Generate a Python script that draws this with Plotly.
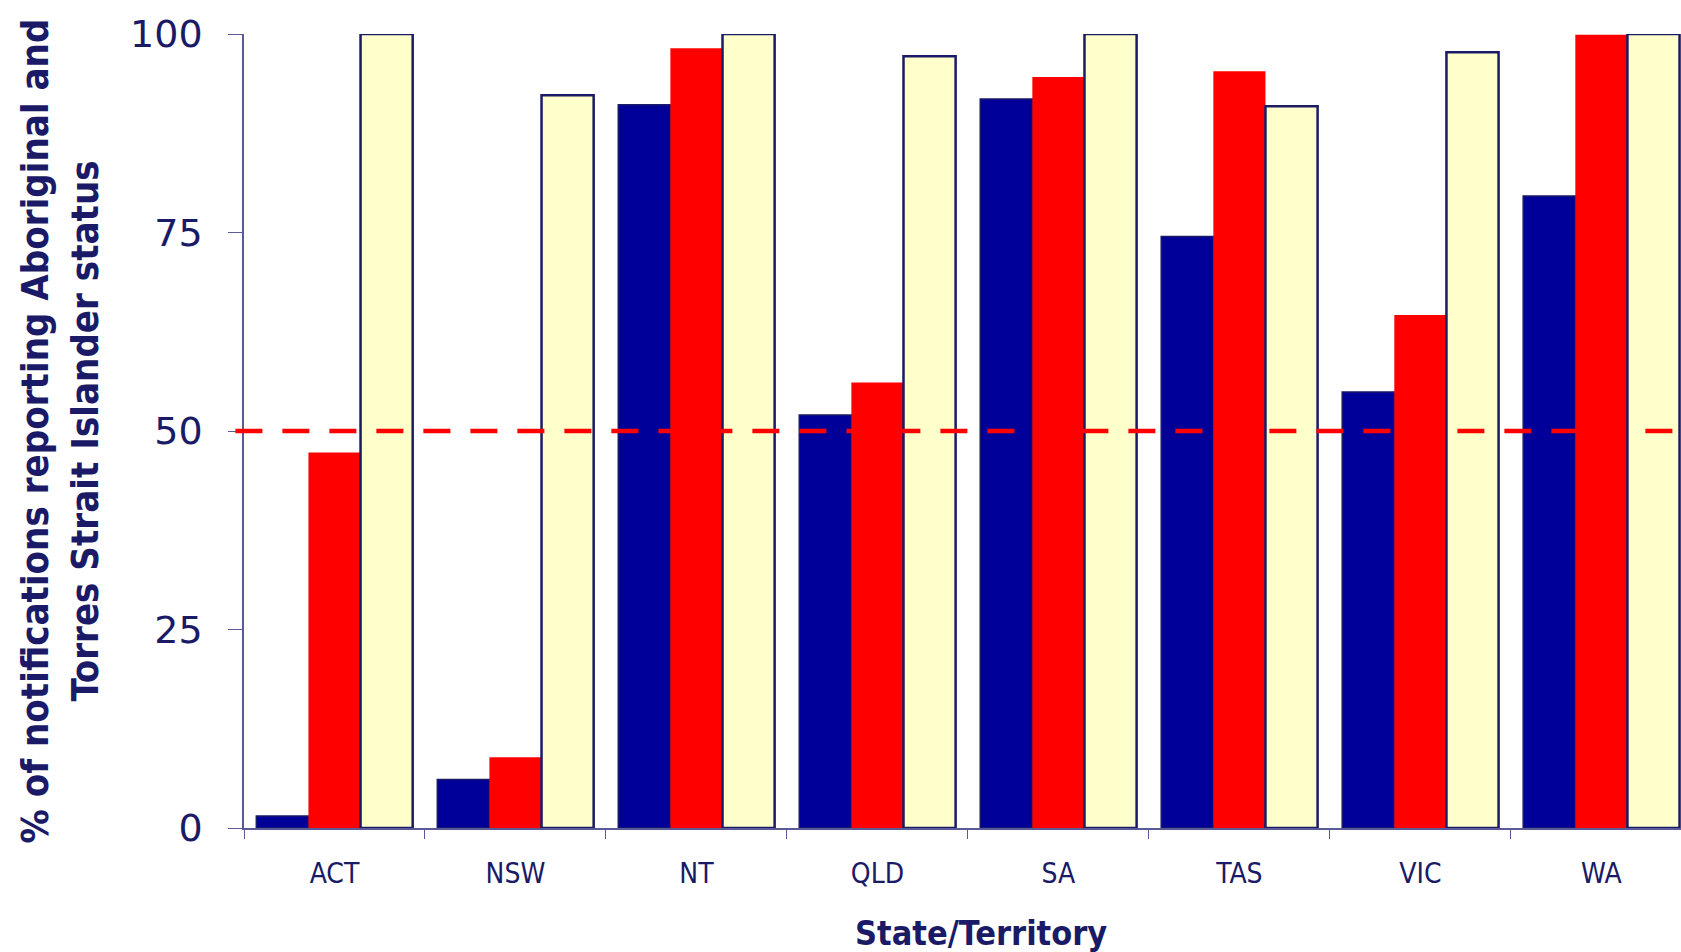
import plotly.graph_objects as go

# Data
states = ["ACT", "NSW", "NT", "QLD", "SA", "TAS", "VIC", "WA"]
series_1 = [1.5, 6.1, 91.1, 52.0, 91.8, 74.5, 54.9, 79.6]
series_2 = [47.3, 8.9, 98.2, 56.1, 94.6, 95.3, 64.6, 99.9]
series_3 = [100, 92.3, 100, 97.2, 100, 90.9, 97.7, 100]
threshold = 50

NAVY = "#1a1a66"
NARROW = "DejaVu Sans Condensed, Liberation Sans Narrow, Liberation Sans"

fig = go.Figure()
fig.add_trace(go.Bar(x=states, y=series_1, name="Series 1",
                     marker=dict(color="#000099", line=dict(color=NAVY, width=1.5))))
fig.add_trace(go.Bar(x=states, y=series_2, name="Series 2",
                     marker=dict(color="#ff0000", line=dict(width=0))))
fig.add_trace(go.Bar(x=states, y=series_3, name="Series 3",
                     marker=dict(color="#ffffcc", line=dict(color=NAVY, width=2.5))))

# 50% reference line
fig.add_shape(type="line", xref="paper", yref="y", x0=-0.006, x1=1,
              y0=threshold, y1=threshold, layer="above",
              line=dict(color="#ff0000", width=4.5, dash="27px,20px"))

# x axis title (placed as annotation, sits a bit right of the visible plot centre)
fig.add_annotation(text="<b>State/Territory</b>", xref="paper", yref="paper",
                   x=0.513, y=-0.132, xanchor="center", yanchor="middle",
                   showarrow=False, font=dict(family=NARROW, size=34, color=NAVY))

fig.update_layout(
    barmode="group",
    bargap=0.136,
    bargroupgap=0,
    showlegend=False,
    paper_bgcolor="white",
    plot_bgcolor="white",
    width=1681, height=952,
    margin=dict(l=244, r=0, t=34, b=124),
    font=dict(color=NAVY),
)

fig.update_xaxes(
    range=[-0.5, 7.44],
    automargin=False,
    showline=True, linecolor="#5a5a99", linewidth=1.5,
    ticks="outside", tickson="boundaries", ticklen=9, tickcolor="#5a5a99",
    tickfont=dict(family=NARROW, size=28, color=NAVY),
    ticklabelstandoff=20,
    showgrid=False,
)

fig.update_yaxes(
    range=[0, 100],
    automargin=False,
    tickvals=[0, 25, 50, 75, 100],
    showline=True, linecolor="#5a5a99", linewidth=1.5,
    ticks="outside", ticklen=14, tickcolor="#5a5a99",
    tickfont=dict(family="DejaVu Sans", size=38, color=NAVY),
    ticklabelstandoff=18,
    title=dict(text="<b>% of notifications reporting Aboriginal and<br>Torres Strait Islander status</b>",
               standoff=20,
               font=dict(family=NARROW, size=38, color=NAVY)),
    showgrid=False, zeroline=False,
)

# drop the browser's default body margin so the figure sits at the page corner
fig.write_html("out.html", config={"displayModeBar": False},
               post_script="document.body.style.margin='0';")
